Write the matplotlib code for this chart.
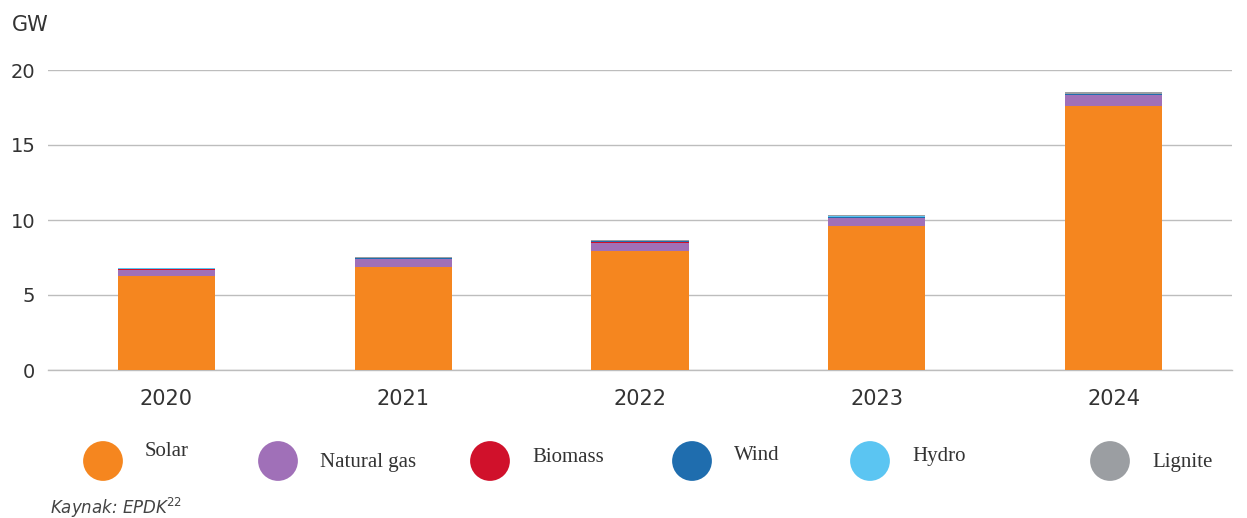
import numpy as np
import matplotlib.pyplot as plt

years = ['2020', '2021', '2022', '2023', '2024']
solar = [6.25, 6.9, 7.95, 9.6, 17.6]
natural_gas = [0.45, 0.5, 0.55, 0.55, 0.75]
biomass = [0.01, 0.01, 0.01, 0.01, 0.01]
wind = [0.05, 0.06, 0.06, 0.06, 0.05]
hydro = [0.02, 0.02, 0.02, 0.02, 0.02]
lignite = [0.05, 0.05, 0.05, 0.06, 0.1]

series = [
    ('Solar', solar, '#F5861F'),
    ('Natural gas', natural_gas, '#A070B8'),
    ('Biomass', biomass, '#D0112B'),
    ('Wind', wind, '#1F6DAE'),
    ('Hydro', hydro, '#5BC5F2'),
    ('Lignite', lignite, '#9B9EA2'),
]

W, H = 1247, 518
fig = plt.figure(figsize=(W / 100, H / 100), dpi=100)
ax = fig.add_axes([48 / W, (H - 370) / H, (1232 - 48) / W, 300 / H])

x = np.arange(len(years))
bottom = np.zeros(len(years))
for name, vals, col in series:
    ax.bar(x, vals, bottom=bottom, width=0.41, color=col, zorder=3)
    bottom += np.array(vals)

ax.set_xlim(-0.5, 4.5)
ax.set_ylim(0, 20)
ax.set_yticks([0, 5, 10, 15, 20])
ax.set_xticks(x)
ax.set_xticklabels(years)
for s in ax.spines.values():
    s.set_visible(False)
ax.grid(axis='y', color='#BDBDBD', lw=1, zorder=0)
ax.axhline(0, color='#BDBDBD', lw=1, zorder=1, clip_on=False)
ax.set_axisbelow(True)
ax.tick_params(length=0, labelsize=15, colors='#333333')
ax.tick_params(axis='y', labelsize=14, pad=9)
ax.tick_params(axis='x', pad=14)
ax.text(12 / W, (H - 25) / H, 'GW', transform=fig.transFigure, fontsize=15,
        color='#333333', ha='left', va='center')

# legend row drawn in pixel coordinates
lg = fig.add_axes([0, 0, 1, 1], facecolor='none')
lg.set_xlim(0, W)
lg.set_ylim(H, 0)
lg.axis('off')
circle_x = [103, 278, 490, 692, 870, 1110]
label_y = [452, 463, 457, 456, 457, 463]
for (name, vals, col), cx, ly in zip(series, circle_x, label_y):
    lg.scatter([cx], [461], s=820, color=col, edgecolors='none')
    lg.text(cx + 42, ly, name, fontsize=15, family='Liberation Serif',
            color='#333333', ha='left', va='center')

lg.text(50, 508, 'Kaynak: EPDK$^{22}$', fontsize=12, style='italic',
        color='#444444', ha='left', va='center')

fig.savefig('out.png', dpi=100)
